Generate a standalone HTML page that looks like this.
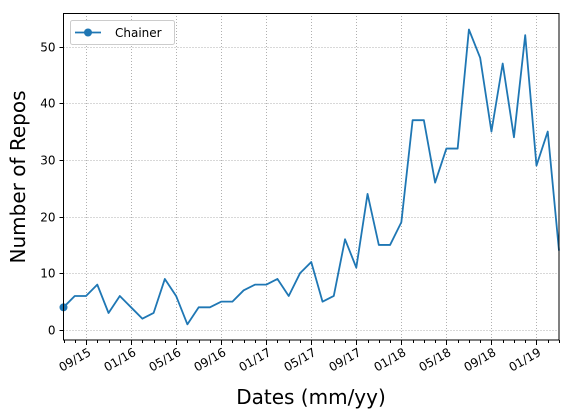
<!DOCTYPE html>
<html><head><meta charset="utf-8"><style>
body{margin:0;background:#fff;}
svg{display:block;font-family:"DejaVu Sans","Liberation Sans",sans-serif;}
</style></head><body>
<svg width="572" height="417">
<g id="grid"></g>
<g id="ax"></g>
<polyline id="line" fill="none" stroke="#1f77b4" stroke-width="1.8" stroke-linejoin="round"></polyline>
<circle id="mk" r="4" fill="#1f77b4"></circle>
<rect x="63.5" y="13.5" width="495.5" height="326.5" fill="none" stroke="#000" stroke-width="1"></rect>
<text x="311" y="404" text-anchor="middle" font-size="20">Dates (mm/yy)</text>
<text transform="translate(25,177) rotate(-90)" text-anchor="middle" font-size="20">Number of Repos</text>
<g>
<rect x="70.5" y="20.5" width="104" height="24" rx="2" fill="#fff" stroke="#ccc"></rect>
<line x1="75" y1="32.5" x2="101" y2="32.5" stroke="#1f77b4" stroke-width="1.8"></line>
<circle cx="88" cy="32.5" r="4" fill="#1f77b4"></circle>
<text x="115" y="37" font-size="12">Chainer</text>
</g>
</svg>
<script>
const values=[4,6,6,8,3,6,4,2,3,9,6,1,4,4,5,5,7,8,8,9,6,10,12,5,6,16,11,24,15,15,19,37,37,26,32,32,53,48,35,47,34,52,29,35,14];
const tickLabels=["09/15","01/16","05/16","09/16","01/17","05/17","09/17","01/18","05/18","09/18","01/19"];
const tickIndex=[2,6,10,14,18,22,26,30,34,38,42];
const yTicks=[0,10,20,30,40,50];
const X0=63.5,X1=559,Y0=330,YU=5.67;
const xs=i=>X0+(X1-X0)*i/(values.length-1);
const ys=v=>Y0-YU*v;
const NS="http://www.w3.org/2000/svg";
const grid=document.getElementById('grid'),ax=document.getElementById('ax');
function mk(t,a,p){const e=document.createElementNS(NS,t);for(const k in a)e.setAttribute(k,a[k]);p.appendChild(e);return e;}
yTicks.forEach(v=>{
  const y=Math.round(ys(v))+0.5;
  const g=mk('line',{x1:X0,x2:X1,y1:y,y2:y,stroke:'#b0b0b0','stroke-dasharray':'1,2'},grid);
  
  
  mk('line',{x1:X0-4,x2:X0,y1:y,y2:y,stroke:'#000'},ax);
  const t=mk('text',{x:X0-8,y:y+4,'text-anchor':'end','font-size':'12'},ax);
  t.textContent=v;
  
  
});
for(let i=0;i<values.length;i++){
  const x=Math.round(xs(i))+0.5;
  mk('line',{x1:x,x2:x,y1:340,y2:343,stroke:'#000'},ax);
}
tickIndex.forEach((ti,k)=>{
  const x=Math.round(xs(ti))+0.5;
  const g=mk('line',{x1:x,x2:x,y1:13,y2:340,stroke:'#b0b0b0','stroke-dasharray':'1,2'},grid);
  
  
  mk('line',{x1:x,x2:x,y1:340,y2:345,stroke:'#000'},ax);
  const t=mk('text',{'text-anchor':'end','dominant-baseline':'hanging','font-size':'12',transform:`translate(${x+1},${347}) rotate(-30)`},ax);
  t.textContent=tickLabels[k];
  
  
});
document.getElementById('line').setAttribute('points',values.map((v,i)=>xs(i)+','+ys(v)).join(' '));
const m=document.getElementById('mk');m.setAttribute('cx',xs(0));m.setAttribute('cy',ys(values[0]));
</script>
</body></html>
